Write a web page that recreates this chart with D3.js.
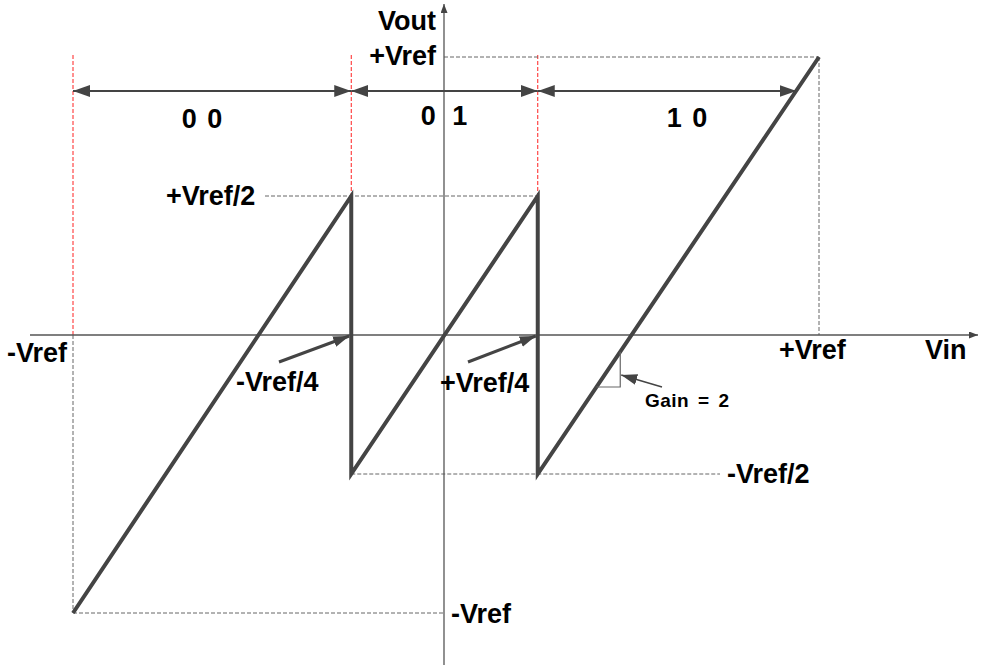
<!DOCTYPE html>
<html>
<head>
<meta charset="utf-8">
<script src="https://cdn.jsdelivr.net/npm/d3@7"></script>
<style>
  body { margin: 0; background: #fff; }
  text { font-family: "Liberation Sans", Arial, sans-serif; font-weight: bold; fill: #000; }
</style>
</head>
<body>
<div id="chart-area"></div>
<script>
/*
*    1.5-bit stage transfer curve
*/

var width = 981;
var height = 665;

// transfer curve, in units of Vref (Vin, Vout)
var curveVin  = [-1, -0.25, -0.25, 0.25, 0.25, 1];
var curveVout = [-1,  0.5,  -0.5,  0.5, -0.5,  1];

// digital output codes and their Vin ranges
var codes     = ["0 0", "0 1", "1 0"];
var codeFrom  = [-1, -0.25, 0.25];
var codeTo    = [-0.25, 0.25, 0.94];

// thresholds where the code changes
var thresholds = [-1, -0.25, 0.25];

var svg = d3.select("#chart-area")
    .append("svg")
    .attr("width", width)
    .attr("height", height);

var x = d3.scaleLinear()
    .domain([-1, 0, 1])
    .range([73, 444, 819]);

var y = d3.scaleLinear()
    .domain([-1, 1])
    .range([613, 57]);

var defs = svg.append("defs");

function arrowMarker(id, w, l, orient) {
    defs.append("marker")
        .attr("id", id)
        .attr("markerUnits", "userSpaceOnUse")
        .attr("viewBox", "0 0 " + l + " " + w)
        .attr("refX", l)
        .attr("refY", w / 2)
        .attr("markerWidth", l)
        .attr("markerHeight", w)
        .attr("orient", orient)
        .append("path")
            .attr("d", "M0,0 L" + l + "," + (w / 2) + " L0," + w + " Z")
            .attr("fill", "#444");
}
arrowMarker("dim", 12, 17, "auto-start-reverse");
arrowMarker("small", 11, 16, "auto");
arrowMarker("axis", 7, 9, "auto");

var lineColor = "#444";

// dashed guides
var gray = "#666";
var red = "#ff2020";
function dashed(x1, y1, x2, y2, color) {
    svg.append("line")
        .attr("x1", x1).attr("y1", y1)
        .attr("x2", x2).attr("y2", y2)
        .attr("stroke", color)
        .attr("stroke-width", 1)
        .attr("stroke-dasharray", "4,2");
}

// red threshold lines
thresholds.forEach((t, i) => {
    var bottom = i == 0 ? y(0) : y(0.5);
    dashed(x(t), 55, x(t), bottom, red);
});

// gray level lines
dashed(x(0), y(1), x(1), y(1), gray);
dashed(x(1), y(1), x(1), y(0), gray);
dashed(265, y(0.5), x(0.25), y(0.5), gray);
dashed(x(-0.25), y(-0.5), 720, y(-0.5), gray);
dashed(x(-1), y(-1), x(0), y(-1), gray);
dashed(x(-1), y(0), x(-1), y(-1), gray);

// axes
svg.append("line")
    .attr("x1", 30).attr("y1", y(0))
    .attr("x2", 978).attr("y2", y(0))
    .attr("stroke", "#555")
    .attr("stroke-width", 1.3)
    .attr("marker-end", "url(#axis)");

svg.append("line")
    .attr("x1", x(0)).attr("y1", height)
    .attr("x2", x(0)).attr("y2", 4)
    .attr("stroke", "#555")
    .attr("stroke-width", 1.3)
    .attr("marker-end", "url(#axis)");

// transfer curve
var pts = curveVin.map((v, i) => [x(v), y(curveVout[i])]);
svg.append("path")
    .attr("d", d3.line()(pts))
    .attr("fill", "none")
    .attr("stroke", lineColor)
    .attr("stroke-width", 4)
    .attr("stroke-linejoin", "miter");

// code range arrows
var dimY = 91;
codes.forEach((c, i) => {
    svg.append("line")
        .attr("x1", x(codeFrom[i])).attr("y1", dimY)
        .attr("x2", x(codeTo[i])).attr("y2", dimY)
        .attr("stroke", lineColor)
        .attr("stroke-width", 2)
        .attr("marker-start", "url(#dim)")
        .attr("marker-end", "url(#dim)");
});

svg.append("text")
    .attr("x", 202).attr("y", 128)
    .attr("font-size", "27px")
    .attr("text-anchor", "middle")
    .attr("word-spacing", "3px")
    .text(codes[0]);

svg.append("text")
    .attr("x", x(0)).attr("y", 125)
    .attr("font-size", "27px")
    .attr("text-anchor", "middle")
    .attr("word-spacing", "9px")
    .text(codes[1]);

svg.append("text")
    .attr("x", 687).attr("y", 127)
    .attr("font-size", "27px")
    .attr("text-anchor", "middle")
    .attr("word-spacing", "3px")
    .text(codes[2]);

// labels
function label(txt, lx, ly, anchor) {
    svg.append("text")
        .attr("x", lx).attr("y", ly)
        .attr("font-size", "27px")
        .attr("text-anchor", anchor || "start")
        .text(txt);
}
label("Vout", 436, 30, "end");
label("+Vref", 436, 65, "end");
label("-Vref", 7, 362);
label("+Vref/2", 166, 205);
label("-Vref/4", 236, 391);
label("+Vref/4", 440, 392);
label("+Vref", 779, 359);
label("Vin", 925, 359);
label("-Vref/2", 727, 483);
label("-Vref", 451, 623);

// pointer arrows to thresholds
svg.append("line")
    .attr("x1", 279).attr("y1", 362)
    .attr("x2", x(-0.25) - 2).attr("y2", y(0) + 1)
    .attr("stroke", lineColor)
    .attr("stroke-width", 3)
    .attr("marker-end", "url(#small)");

svg.append("line")
    .attr("x1", 468).attr("y1", 362)
    .attr("x2", x(0.25) - 2).attr("y2", y(0) + 1)
    .attr("stroke", lineColor)
    .attr("stroke-width", 3)
    .attr("marker-end", "url(#small)");

// gain triangle
var gTop = -0.06, gLow = -0.187;
var gx = (gTop + 1) / 2;
var gxLow = (gLow + 1) / 2;
svg.append("path")
    .attr("d", d3.line()([[x(gx), y(gTop)], [x(gx), y(gLow)], [x(gxLow), y(gLow)]]))
    .attr("fill", "none")
    .attr("stroke", "#666")
    .attr("stroke-width", 1.2);

svg.append("line")
    .attr("x1", 662).attr("y1", 387)
    .attr("x2", x(gx) + 1).attr("y2", 375)
    .attr("stroke", lineColor)
    .attr("stroke-width", 1.5)
    .attr("marker-end", "url(#small)");

svg.append("text")
    .attr("x", 645).attr("y", 407)
    .attr("font-size", "19px")
    .attr("letter-spacing", "0.5px")
    .attr("word-spacing", "3px")
    .text("Gain = 2");
</script>
</body>
</html>
